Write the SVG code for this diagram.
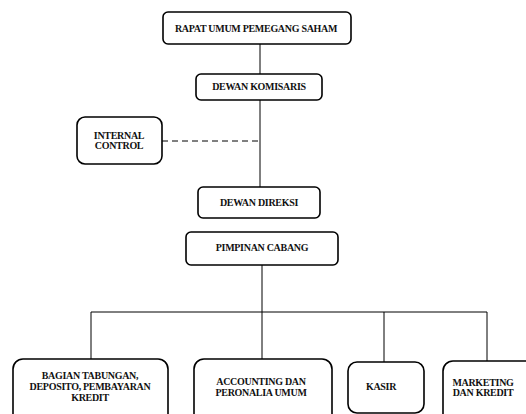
<svg xmlns="http://www.w3.org/2000/svg" width="526" height="414" viewBox="0 0 526 414">
<style>
.box{fill:#fff;stroke:#000;stroke-width:1.6}
.t{font-family:"Liberation Serif","Times New Roman",serif;font-weight:bold;font-size:10px;fill:#111;text-anchor:middle;letter-spacing:-0.3px}
.ln{stroke:#000;stroke-width:1;fill:none}
.dash{stroke:#000;stroke-width:1;fill:none;stroke-dasharray:6,4}
</style>
<rect width="526" height="414" fill="#fff"/>
<g id="connectors">
<line class="ln" x1="260" y1="44" x2="260" y2="74"/>
<line class="ln" x1="260" y1="100" x2="260" y2="187"/>
<line class="dash" x1="162" y1="141" x2="260" y2="141"/>
<line class="ln" x1="262" y1="265" x2="262" y2="359"/>
<polyline class="ln" points="91,359 91,312 487,312 487,361"/>
<line class="ln" x1="384" y1="312" x2="384" y2="362"/>
</g>
<g id="rups">
<rect class="box" x="163" y="12" width="188" height="32" rx="5"/>
<text class="t" x="256" y="32">RAPAT UMUM PEMEGANG SAHAM</text>
</g>
<g id="dewan-komisaris">
<rect class="box" x="196" y="74" width="126" height="26" rx="5"/>
<text class="t" x="259" y="90">DEWAN KOMISARIS</text>
</g>
<g id="internal-control">
<rect class="box" x="77" y="117" width="85" height="47" rx="8"/>
<text class="t" x="119" y="139">INTERNAL</text>
<text class="t" x="119" y="149">CONTROL</text>
</g>
<g id="dewan-direksi">
<rect class="box" x="198" y="187" width="122" height="31" rx="5"/>
<text class="t" x="259" y="206">DEWAN DIREKSI</text>
</g>
<g id="pimpinan-cabang">
<rect class="box" x="186" y="232" width="152" height="33" rx="5"/>
<text class="t" x="262" y="251">PIMPINAN CABANG</text>
</g>
<g id="bagian-tabungan">
<rect class="box" x="13" y="359" width="155" height="70" rx="10"/>
<text class="t" x="90" y="379">BAGIAN TABUNGAN,</text>
<text class="t" x="90" y="390">DEPOSITO, PEMBAYARAN</text>
<text class="t" x="90" y="401">KREDIT</text>
</g>
<g id="accounting">
<rect class="box" x="194" y="359" width="138" height="70" rx="10"/>
<text class="t" x="261" y="385">ACCOUNTING DAN</text>
<text class="t" x="261" y="396">PERONALIA UMUM</text>
</g>
<g id="kasir">
<rect class="box" x="348" y="362" width="76" height="51" rx="9"/>
<text class="t" x="381" y="390">KASIR</text>
</g>
<g id="marketing">
<rect class="box" x="443" y="361" width="100" height="70" rx="10"/>
<text class="t" x="483" y="386">MARKETING</text>
<text class="t" x="483" y="396">DAN KREDIT</text>
</g>
</svg>
